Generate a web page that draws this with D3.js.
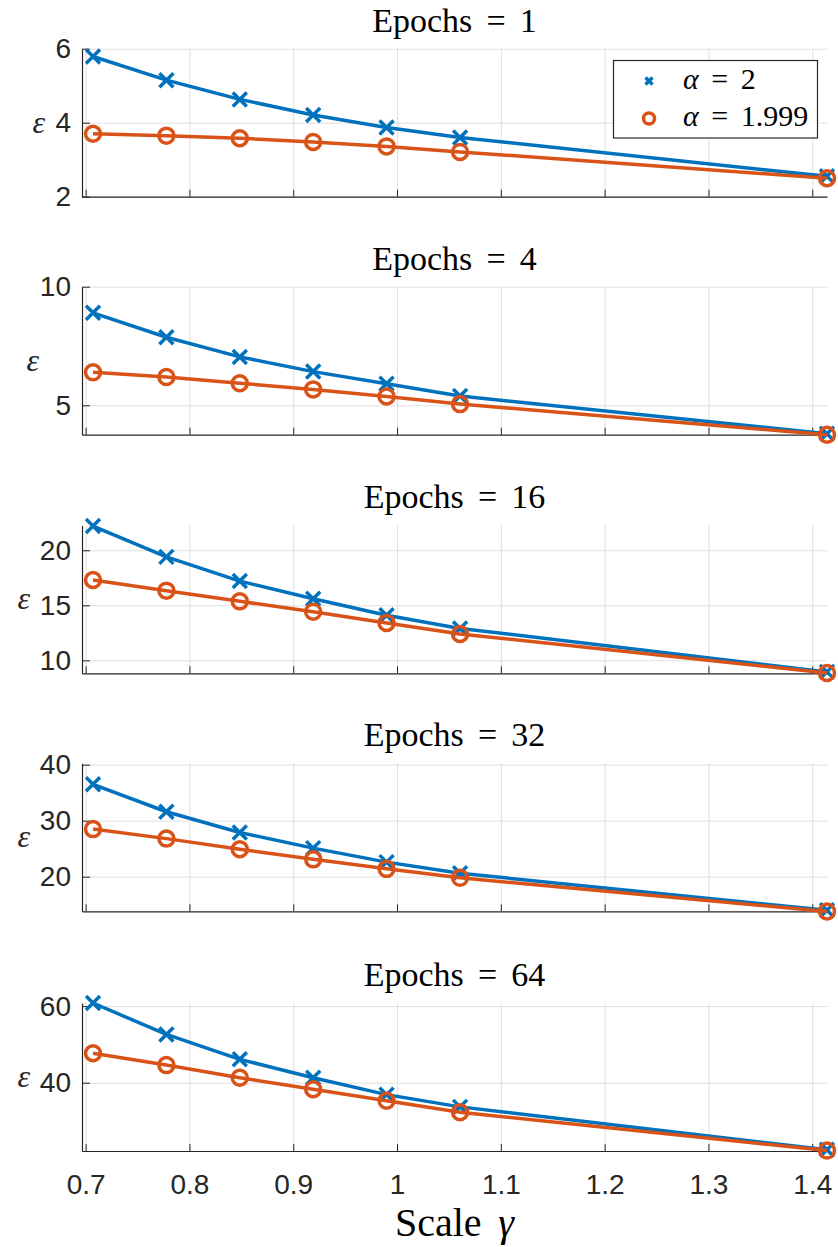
<!DOCTYPE html>
<html>
<head>
<meta charset="utf-8">
<script src="https://cdn.jsdelivr.net/npm/d3@7"></script>
<style>
  body { margin: 0; background: #fff; }
  svg { display: block; }
</style>
</head>
<body>
<svg id="chart" width="838" height="1247"></svg>
<script>
// scale gamma on the x axis (same for all panels)
const gammas = [0.7071, 0.7778, 0.8485, 0.9192, 0.9899, 1.0607, 1.4142]
const xTicks = [0.7, 0.8, 0.9, 1.0, 1.1, 1.2, 1.3, 1.4]

const epochs = [1, 4, 16, 32, 64]
const seriesNames = ['2', '1.999']

// epsilon for alpha = 2, one row per panel
const epsAlpha2 = [
  [5.79, 5.15, 4.63, 4.21, 3.87, 3.60, 2.55],
  [8.90, 7.87, 7.04, 6.42, 5.91, 5.39, 3.80],
  [22.2, 19.4, 17.2, 15.6, 14.1, 12.9, 8.95],
  [36.5, 31.6, 27.9, 25.1, 22.6, 20.6, 14.0],
  [60.8, 52.6, 46.1, 41.3, 36.9, 33.7, 22.5],
]
// epsilon for alpha = 1.999
const epsAlpha1999 = [
  [3.70, 3.65, 3.58, 3.48, 3.36, 3.21, 2.50],
  [6.39, 6.19, 5.93, 5.67, 5.37, 5.05, 3.76],
  [17.3, 16.33, 15.36, 14.42, 13.4, 12.39, 8.85],
  [28.5, 26.8, 24.9, 23.1, 21.4, 19.8, 13.8],
  [47.7, 44.6, 41.3, 38.3, 35.3, 32.3, 22.3],
]

const yLimits = [[2, 6], [3.76, 10], [8.82, 22.27], [13.82, 40.25], [22.19, 60.8]]
const yTicks = [[2, 4, 6], [5, 10], [10, 15, 20], [20, 30, 40], [40, 60]]

// layout
const LEFT = 82
const RIGHT = 827
const PANEL_H = 148
const panelBottoms = [196.7, 434.7, 673.3, 911.3, 1151]
const yLabelRight = [45, 39, 30, 30, 30]

const BLUE = '#0072bd'
const ORANGE = '#d95319'
const AXIS_COLOR = '#262626'
const GRID_COLOR = '#dfdfdf'
const SERIF = "'Liberation Serif', 'Times New Roman', serif"
const SANS = "'Liberation Sans', Arial, sans-serif"
const MATH_SPACE = '\u2004\u200a' // roughly the spacing LaTeX puts round "="

const svg = d3.select('#chart')
const x = d3.scaleLinear().domain([0.6965, 1.4142]).range([LEFT, RIGHT])

function formatTick(d) {
  return String(+d.toFixed(1))
}

function drawMarkerX(g, cx, cy, half, width) {
  g.append('path')
    .attr('d', `M${cx - half},${cy - half}L${cx + half},${cy + half}M${cx - half},${cy + half}L${cx + half},${cy - half}`)
    .attr('stroke', BLUE)
    .attr('stroke-width', width)
    .attr('fill', 'none')
}

function drawMarkerO(g, cx, cy, r, width) {
  g.append('circle')
    .attr('cx', cx)
    .attr('cy', cy)
    .attr('r', r)
    .attr('fill', 'none')
    .attr('stroke', ORANGE)
    .attr('stroke-width', width)
}

function drawPanel(k) {
  const bottom = panelBottoms[k]
  const top = bottom - PANEL_H
  const y = d3.scaleLinear().domain(yLimits[k]).range([bottom, top])
  const g = svg.append('g').attr('class', 'panel panel-' + k)

  // grid lines
  const xGrid = g.append('g')
    .attr('transform', `translate(0,${bottom})`)
    .call(d3.axisBottom(x).tickValues(xTicks).tickSize(-PANEL_H).tickFormat(''))
  const yGrid = g.append('g')
    .attr('transform', `translate(${LEFT},0)`)
    .call(d3.axisLeft(y).tickValues(yTicks[k]).tickSize(-(RIGHT - LEFT)).tickFormat(''))
  ;[xGrid, yGrid].forEach(function (grid) {
    grid.select('.domain').remove()
    grid.selectAll('line').attr('stroke', GRID_COLOR)
  })

  // axes, ticks point inwards
  const xAxis = g.append('g')
    .attr('transform', `translate(0,${bottom})`)
    .call(d3.axisBottom(x).tickValues(xTicks).tickSizeInner(-7).tickSizeOuter(0).tickPadding(23)
      .tickFormat(k === epochs.length - 1 ? formatTick : ''))
  const yAxis = g.append('g')
    .attr('transform', `translate(${LEFT},0)`)
    .call(d3.axisLeft(y).tickValues(yTicks[k]).tickSizeInner(-8).tickSizeOuter(0).tickPadding(11)
      .tickFormat(formatTick))
  ;[xAxis, yAxis].forEach(function (axis) {
    axis.attr('font-family', SANS).attr('font-size', 28).style('color', AXIS_COLOR)
    axis.select('.domain').attr('stroke-width', 1.2)
  })

  // y label
  g.append('text')
    .attr('x', yLabelRight[k])
    .attr('y', (top + bottom) / 2 + 10)
    .attr('text-anchor', 'end')
    .attr('font-family', SERIF)
    .attr('font-style', 'italic')
    .attr('font-size', 32)
    .attr('fill', AXIS_COLOR)
    .text('\u03b5')

  // title
  g.append('text')
    .attr('x', (LEFT + RIGHT) / 2)
    .attr('y', top - 17)
    .attr('text-anchor', 'middle')
    .attr('font-family', SERIF)
    .attr('font-size', 34)
    .attr('fill', '#000')
    .text('Epochs' + MATH_SPACE + '=' + MATH_SPACE + epochs[k])

  // series
  const line = d3.line()
    .x(function (d, i) { return x(gammas[i]) })
    .y(function (d) { return y(d) })

  const blue = g.append('g')
  blue.append('path').attr('d', line(epsAlpha2[k])).attr('fill', 'none')
    .attr('stroke', BLUE).attr('stroke-width', 3.5).attr('stroke-linejoin', 'round')
  epsAlpha2[k].forEach(function (v, i) {
    drawMarkerX(blue, x(gammas[i]), y(v), 7, 3.5)
  })

  const orange = g.append('g')
  orange.append('path').attr('d', line(epsAlpha1999[k])).attr('fill', 'none')
    .attr('stroke', ORANGE).attr('stroke-width', 3.5).attr('stroke-linejoin', 'round')
  epsAlpha1999[k].forEach(function (v, i) {
    drawMarkerO(orange, x(gammas[i]), y(v), 7.5, 3.5)
  })
}

function drawLegend() {
  const legend = svg.append('g').attr('class', 'legend')
  legend.append('rect')
    .attr('x', 613.5).attr('y', 60.5)
    .attr('width', 204).attr('height', 77.5)
    .attr('fill', '#fff')
    .attr('stroke', AXIS_COLOR)
    .attr('stroke-width', 1.2)

  drawMarkerX(legend, 649, 81, 3.5, 3.5)
  drawMarkerO(legend, 649, 118.5, 5.5, 3.5)

  seriesNames.forEach(function (name, i) {
    const t = legend.append('text')
      .attr('x', 683)
      .attr('y', 89 + i * 37)
      .attr('font-family', SERIF)
      .attr('font-size', 30)
      .attr('fill', '#000')
    t.append('tspan').attr('font-style', 'italic').text('\u03b1')
    t.append('tspan').text(MATH_SPACE + '=' + MATH_SPACE + name)
  })
}

epochs.forEach(function (e, k) {
  drawPanel(k)
})
drawLegend()

// x label
const xLabel = svg.append('text')
  .attr('x', (LEFT + RIGHT) / 2)
  .attr('y', 1236)
  .attr('text-anchor', 'middle')
  .attr('font-family', SERIF)
  .attr('font-size', 40)
  .attr('fill', '#000')
xLabel.append('tspan').text('Scale' + MATH_SPACE)
xLabel.append('tspan').attr('font-style', 'italic').text('\u03b3')
</script>
</body>
</html>
